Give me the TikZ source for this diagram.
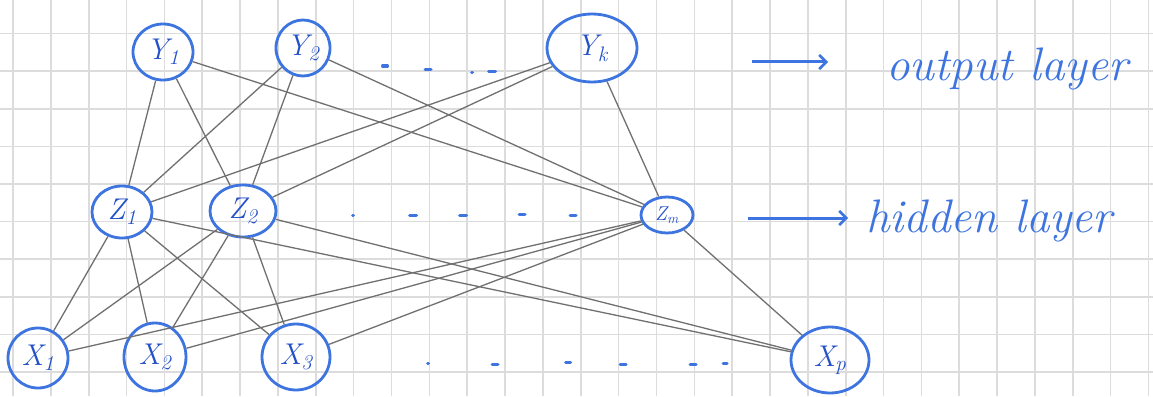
\documentclass[tikz,border=0pt]{standalone}
\usepackage{fontspec}
\usetikzlibrary{shapes.geometric,arrows.meta}
\definecolor{ink}{HTML}{3D74E0}
\definecolor{inkdark}{HTML}{2450C8}
\definecolor{pencil}{HTML}{707070}
\definecolor{gridline}{HTML}{DCDCDC}
\begin{document}
\begin{tikzpicture}[x=1pt,y=-1pt,
  unit/.style={ellipse, draw=ink, line width=2.8pt, inner sep=0pt,
    text=inkdark, font=\fontsize{30}{30}\selectfont\itshape},
  link/.style={draw=pencil, line width=1.3pt},
  layerarrow/.style={draw=ink, line width=3pt,
    -{Straight Barb[length=7pt,width=14pt,line width=2.6pt]}},
  note/.style={text=ink, font=\fontsize{47}{50}\selectfont\itshape,
    anchor=base west, inner sep=0pt},
  gapmark/.style={draw=ink, line width=3pt, line cap=round}]

% paper and squared grid
\fill[white] (0,0) rectangle (1153,396);
\useasboundingbox (0,0) rectangle (1153,396);
\foreach \i in {0,...,30}
  \draw[gridline, line width=1.6pt] ({13+37.85*\i},0) -- ({13+37.85*\i},396);
\foreach \j in {0,...,9}
  \draw[gridline, line width=1.6pt] (0,{33.5+37.6*\j}) -- (1153,{33.5+37.6*\j});

% output layer
\node[unit, minimum width=60pt, minimum height=56pt] (y1) at (163,52) {Y\textsubscript{1}};
\node[unit, minimum width=54pt, minimum height=56pt] (y2) at (303,48) {Y\textsubscript{2}};
\node[unit, minimum width=90pt, minimum height=68pt] (yk) at (592,48) {Y\textsubscript{k}};

% hidden layer
\node[unit, minimum width=60pt, minimum height=52pt] (z1) at (122,212) {Z\textsubscript{1}};
\node[unit, minimum width=66pt, minimum height=52pt] (z2) at (243,211) {Z\textsubscript{2}};
\node[unit, minimum width=52pt, minimum height=36pt, font=\fontsize{20}{20}\selectfont\itshape] (zm) at (667,215) {Z\textsubscript{m}};

% input layer
\node[unit, minimum width=60pt, minimum height=60pt] (x1) at (38,358) {X\textsubscript{1}};
\node[unit, minimum width=62pt, minimum height=68pt] (x2) at (155,357) {X\textsubscript{2}};
\node[unit, minimum width=68pt, minimum height=66pt] (x3) at (296,357) {X\textsubscript{3}};
\node[unit, minimum width=78pt, minimum height=66pt] (xp) at (830,360) {X\textsubscript{p}};

% connections: every output unit to every hidden unit
\foreach \a in {y1,y2,yk}
  \foreach \b in {z1,z2,zm}
    \draw[link] (\a) -- (\b);
% connections: every hidden unit to every input unit
\foreach \a in {z1,z2,zm}
  \foreach \b in {x1,x2,x3,xp}
    \draw[link] (\a) -- (\b);

% ellipsis marks between units
\foreach \x/\y/\l in {385/66/5, 428/69/6, 472/72/1, 492/71/7}
  \draw[gapmark] ({\x-\l/2},\y) -- ({\x+\l/2},\y);
\foreach \x/\y/\l in {353/215/1, 413/215/7, 463/215/7, 522/214/6, 573/215/6}
  \draw[gapmark] ({\x-\l/2},\y) -- ({\x+\l/2},\y);
\foreach \x/\y/\l in {428/363/1, 495/364/6, 568/362/5, 623/364/6, 693/364/6, 725/363/4}
  \draw[gapmark] ({\x-\l/2},\y) -- ({\x+\l/2},\y);

% layer names
\coordinate (oa) at (752,62);
\coordinate (ob) at (828,62);
\draw[layerarrow] (oa) -- (ob);
\node[note] (outlbl) at (886,80) {output layer};

\coordinate (ha) at (748,218);
\coordinate (hb) at (848,218);
\draw[layerarrow] (ha) -- (hb);
\node[note] (hidlbl) at (866,232) {hidden layer};
\end{tikzpicture}
\end{document}
